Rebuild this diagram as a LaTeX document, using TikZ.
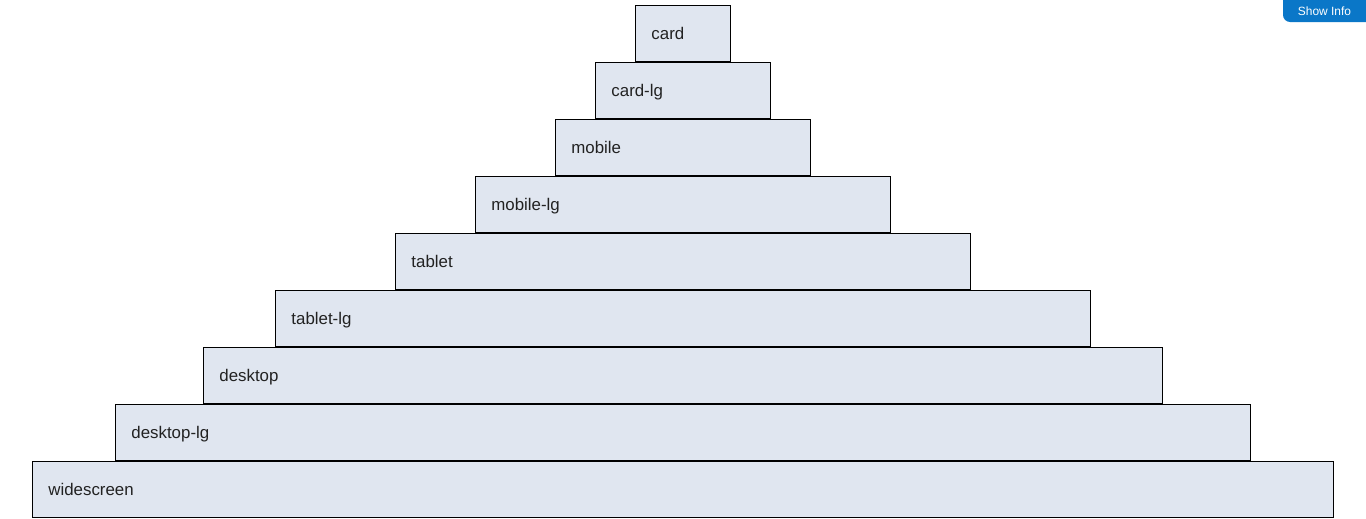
\documentclass[tikz,border=0pt]{standalone}
\usepackage{fontspec}
\setmainfont{Liberation Sans}
\usetikzlibrary{positioning}

\definecolor{layerfill}{HTML}{E0E6F0}
\definecolor{layertext}{HTML}{222222}
\definecolor{infoblue}{HTML}{0A77C8}

\tikzset{
    layer/.style = {draw = black, line width = 0.5pt, fill = layerfill, anchor = north west,
                    minimum height = 1.12cm, inner xsep = 0.32cm, align = left,
                    text height = 0.33cm, text depth = 0.07cm,
                    text = layertext, font = \fontsize{9.6}{11.5}\selectfont},
}

\begin{document}
\begin{tikzpicture}[x = 0.02cm, y = -0.02cm]
    \useasboundingbox (0,0) rectangle (1366,518);

    \node[layer, text width = 1.27cm] (card) at (635,5) {card};
    \node[layer, text width = 2.87cm] (cardlg) at (595,62) {card-lg};
    \node[layer, text width = 4.47cm] (mobile) at (555,119) {mobile};
    \node[layer, text width = 7.67cm] (mobilelg) at (475,176) {mobile-lg};
    \node[layer, text width = 10.87cm] (tablet) at (395,233) {tablet};
    \node[layer, text width = 15.67cm] (tabletlg) at (275,290) {tablet-lg};
    \node[layer, text width = 18.55cm] (desktop) at (203,347) {desktop};
    \node[layer, text width = 22.07cm] (desktoplg) at (115,404) {desktop-lg};
    \node[layer, text width = 25.39cm] (widescreen) at (32,461) {widescreen};

    % button in the corner
    \fill[infoblue] (1366,0) -- (1283,0) [rounded corners = 4pt] -- (1283,22) [sharp corners] -- (1366,22) -- cycle;
    \node[text = white, font = \fontsize{6.8}{8}\selectfont] (showinfo) at (1324.5,11) {Show Info};

\end{tikzpicture}
\end{document}
